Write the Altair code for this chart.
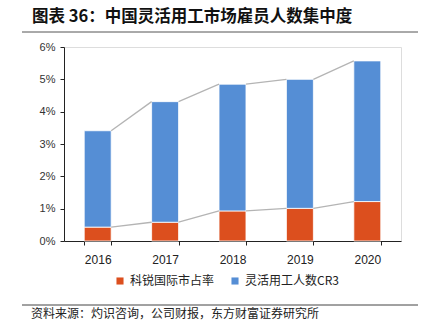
import altair as alt
import pandas as pd

years = ["2016", "2017", "2018", "2019", "2020"]
kerui_share = [0.43, 0.58, 0.93, 1.01, 1.22]          # 科锐国际市占率 (%)
cr3_total = [3.41, 4.31, 4.85, 5.00, 5.57]            # top of stacked bar (%)
series_names = ["科锐国际市占率", "灵活用工人数CR3"]
colors = ["#DC4F1E", "#558ED5"]
y_ticks = [0, 1, 2, 3, 4, 5, 6]

title_text = "图表 36：中国灵活用工市场雇员人数集中度"
source_text = "资料来源：灼识咨询，公司财报，东方财富证券研究所"

CJK = "Noto Sans CJK SC"
LAT = "Liberation Sans"

rows = []
for i, y in enumerate(years):
    rows.append({"year": y, "series": series_names[0], "value": kerui_share[i], "order": 0})
    rows.append({"year": y, "series": series_names[1], "value": round(cr3_total[i] - kerui_share[i], 3), "order": 1})
bars_df = pd.DataFrame(rows)

line_rows = []
for i in range(len(years) - 1):
    line_rows.append({"year": years[i], "next": years[i + 1], "v": kerui_share[i], "v2": kerui_share[i + 1]})
    line_rows.append({"year": years[i], "next": years[i + 1], "v": cr3_total[i], "v2": cr3_total[i + 1]})
lines_df = pd.DataFrame(line_rows)

W, H = 337, 194

xscale = alt.Scale(domain=years, paddingInner=0.6, paddingOuter=0.3)
yscale = alt.Scale(domain=[0, 6], nice=False)

x_axis = alt.Axis(title=None, labelAngle=0, labelFont=LAT, labelFontSize=12,
                  labelColor="#222222", domainColor="#222222", tickColor="#222222",
                  tickBand="extent", tickSize=4, labelPadding=9)
y_axis = alt.Axis(title=None, values=y_ticks, labelExpr="datum.value + '%'",
                  labelOverlap=False, grid=False, labelFont=LAT, labelFontSize=11,
                  labelColor="#333333", domainColor="#222222", tickColor="#222222",
                  tickSize=4, labelPadding=5)

bars = alt.Chart(bars_df).mark_bar(stroke="white", strokeWidth=0.8).encode(
    x=alt.X("year:N", scale=xscale, sort=years, axis=x_axis),
    y=alt.Y("value:Q", stack="zero", scale=yscale, axis=y_axis),
    color=alt.Color("series:N", scale=alt.Scale(domain=series_names, range=colors),
                    legend=alt.Legend(title=None, orient="none", legendX=50, legendY=228,
                                      direction="horizontal", symbolType="square", symbolSize=50,
                                      labelFont=CJK, labelFontSize=12, labelColor="#222222",
                                      columnPadding=14, symbolStrokeWidth=0)),
    order=alt.Order("order:Q"),
)

lines = alt.Chart(lines_df).mark_rule(color="#B4B4B4", strokeWidth=1.3).encode(
    x=alt.X("year:N", scale=xscale, sort=years, bandPosition=1, axis=x_axis),
    x2=alt.X2("next:N", bandPosition=0),
    y=alt.Y("v:Q", scale=yscale, axis=y_axis),
    y2="v2:Q",
)

deco_df = pd.DataFrame({"t": [title_text]})
title = alt.Chart(deco_df).mark_text(align="left", baseline="middle", font=CJK, fontSize=16.5,
                                     fontWeight="bold", color="#111111").encode(
    x=alt.value(-32), y=alt.value(-30), text="t:N")
src = alt.Chart(pd.DataFrame({"t": [source_text]})).mark_text(
    align="left", baseline="middle", font=CJK, fontSize=12, color="#222222").encode(
    x=alt.value(-33), y=alt.value(267), text="t:N")
rule_top = alt.Chart(deco_df).mark_rule(color="#555555", strokeWidth=1).encode(
    x=alt.value(-42), x2=alt.value(354), y=alt.value(-15))
rule_bot = alt.Chart(deco_df).mark_rule(color="#444444", strokeWidth=1).encode(
    x=alt.value(-42), x2=alt.value(354), y=alt.value(258))

chart = alt.layer(bars, lines, rule_top, title, rule_bot, src).properties(
    width=W, height=H,
    autosize=alt.AutoSizeParams(type="none"),
    padding={"left": 64, "top": 47, "right": 29, "bottom": 94},
).configure_view(stroke=None).configure_axis(labelOverlap=False).configure(background="white")

chart.save("out.html", embed_options={"renderer": "svg", "actions": False})
